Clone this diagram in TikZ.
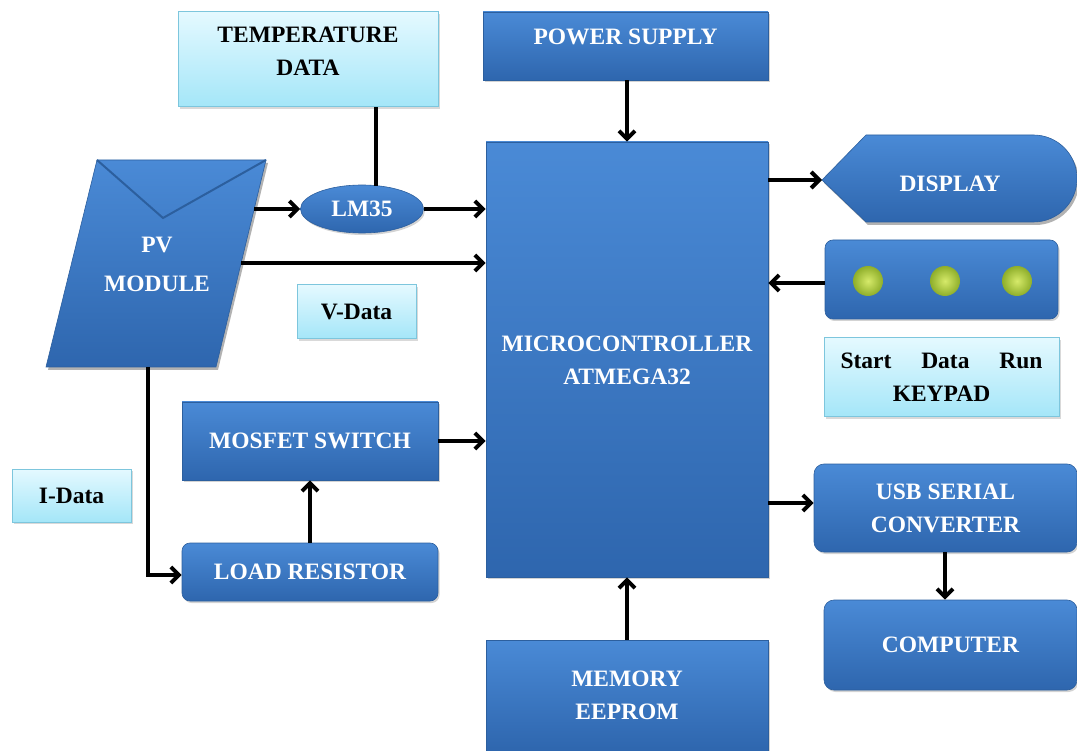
\documentclass[tikz,border=0pt]{standalone}
\usepackage{fontspec}
\setmainfont{Liberation Serif}
\usetikzlibrary{arrows.meta,shapes.geometric,shadows}
\definecolor{bluetop}{HTML}{4A8AD6}
\definecolor{bluebot}{HTML}{2E66AE}
\definecolor{blueedge}{HTML}{2C5F9E}
\definecolor{cyantop}{HTML}{E4F9FF}
\definecolor{cyanbot}{HTML}{A4E6F8}
\definecolor{cyanedge}{HTML}{7DC6DD}
\definecolor{ballin}{HTML}{D6EA6A}
\definecolor{ballout}{HTML}{8EAE2A}
\tikzset{
  txt/.style={font=\bfseries\fontsize{23.5}{33}\selectfont},
  bluebox/.style={draw=blueedge, line width=0.6pt, top color=bluetop, bottom color=bluebot,
    text=white, txt, align=center,
    drop shadow={shadow xshift=1.5pt, shadow yshift=-2pt, opacity=0.35}},
  lightbox/.style={draw=cyanedge, line width=1pt, top color=cyantop, bottom color=cyanbot,
    text=black, txt, align=center,
    drop shadow={shadow xshift=1.5pt, shadow yshift=-2pt, opacity=0.3}},
  conn/.style={line width=4pt, -{Straight Barb[length=8pt,width=16pt,line width=4pt]}},
  plain/.style={line width=4pt},
}
\newcommand{\twoline}[3]{\raisebox{#1}[0pt][0pt]{\begin{tabular}{@{}c@{}}#2\\#3\end{tabular}}}
\begin{document}
\begin{tikzpicture}[x=1pt,y=-1pt]
\useasboundingbox (0,0) rectangle (1077,751);
% light boxes
\node[lightbox, minimum width=260pt, minimum height=95pt] (temp) at (308,59.5) {\twoline{0.5pt}{TEMPERATURE}{DATA}};
\node[lightbox, minimum width=119pt, minimum height=54pt] (vdata) at (356.5,312) {V-Data};
\node[lightbox, minimum width=119pt, minimum height=53pt] (idata) at (71.5,495.5) {I-Data};
\node[lightbox, minimum width=235pt, minimum height=79pt] (kplabel) at (941.5,377.5) {\makebox[202pt][s]{Start Data Run}\\KEYPAD};
% blue boxes
\node[bluebox, minimum width=285pt, minimum height=68pt] (ps) at (625.5,46) {\raisebox{18pt}{POWER SUPPLY}};
\node[bluebox, minimum width=282pt, minimum height=435pt] (mcu) at (627,359.5) {\twoline{-8.5pt}{MICROCONTROLLER}{ATMEGA32}};
\node[bluebox, minimum width=282pt, minimum height=111pt] (mem) at (627,695.5) {MEMORY\\EEPROM};
\node[bluebox, minimum width=256pt, minimum height=78pt] (mos) at (310,441) {MOSFET SWITCH};
\node[bluebox, rounded corners=8pt, minimum width=256pt, minimum height=58pt] (load) at (310,572) {LOAD RESISTOR};
\node[bluebox, rounded corners=10pt, minimum width=263pt, minimum height=88pt] (usb) at (945.5,508) {USB SERIAL\\CONVERTER};
\node[bluebox, rounded corners=10pt, minimum width=253pt, minimum height=90pt] (comp) at (950.5,645) {COMPUTER};
\node[bluebox, rounded corners=8pt, minimum width=233pt, minimum height=79pt] (kp) at (941.5,279.5) {};
\foreach \bx in {868,945,1017}
  \shade[inner color=ballin, outer color=ballout] (\bx,281) circle (15pt);
\node[bluebox, ellipse, minimum width=123pt, minimum height=48pt] (lm) at (362,209) {LM35};
% display shape
\fill[black, opacity=0.3] (824,183) -- (868,138) -- (1035.5,138) arc[start angle=90, end angle=-90, radius=43.5pt] -- (868,225) -- cycle;
\shade[top color=bluetop, bottom color=bluebot, draw=blueedge, line width=0.6pt]
  (822,180) -- (866,135) -- (1033.5,135) arc[start angle=90, end angle=-90, radius=43.5pt] -- (866,222) -- cycle;
\coordinate (dispL) at (822,180);
\node[text=white, txt] (disp) at (950,184) {DISPLAY};
% PV module
\fill[black, opacity=0.3] (99,163) -- (268,163) -- (218,370) -- (48,370) -- cycle;
\shade[top color=bluetop, bottom color=bluebot, draw=blueedge, line width=0.6pt]
  (97,160) -- (266,160) -- (216,367) -- (46,367) -- cycle;
\draw[color=blueedge, line width=2pt] (97,160) -- (163,218) -- (266,160);
\node[text=white, txt, align=center] (pv) at (157,264) {PV\\[6pt]MODULE};
\coordinate (pvA) at (254,209);
\coordinate (pvB) at (241,263);
\coordinate (pvC) at (148,367);
\coordinate (pvCorner) at (148,575);
% connectors
\draw[plain] (temp.south -| 376,0) -- (376,186);
\draw[conn] (pvA) -- (lm.west);
\draw[conn] (lm.east) -- (lm.east -| mcu.west);
\draw[conn] (pvB) -- (pvB -| mcu.west);
\draw[conn] (pvC) -- (pvCorner) -- (pvCorner -| load.west);
\draw[conn] (load.north) -- (mos.south);
\draw[conn] (mos.east) -- (mos.east -| mcu.west);
\draw[conn] (ps.south -| 627,0) -- (mcu.north);
\draw[conn] (dispL -| mcu.east) -- (dispL);
\draw[conn] (kp.west |- 0,283) -- (mcu.east |- 0,283);
\draw[conn] (mcu.east |- 0,503) -- (usb.west |- 0,503);
\draw[conn] (usb.south -| 945,0) -- (comp.north -| 945,0);
\draw[conn] (mem.north) -- (mcu.south);
\end{tikzpicture}
\end{document}
